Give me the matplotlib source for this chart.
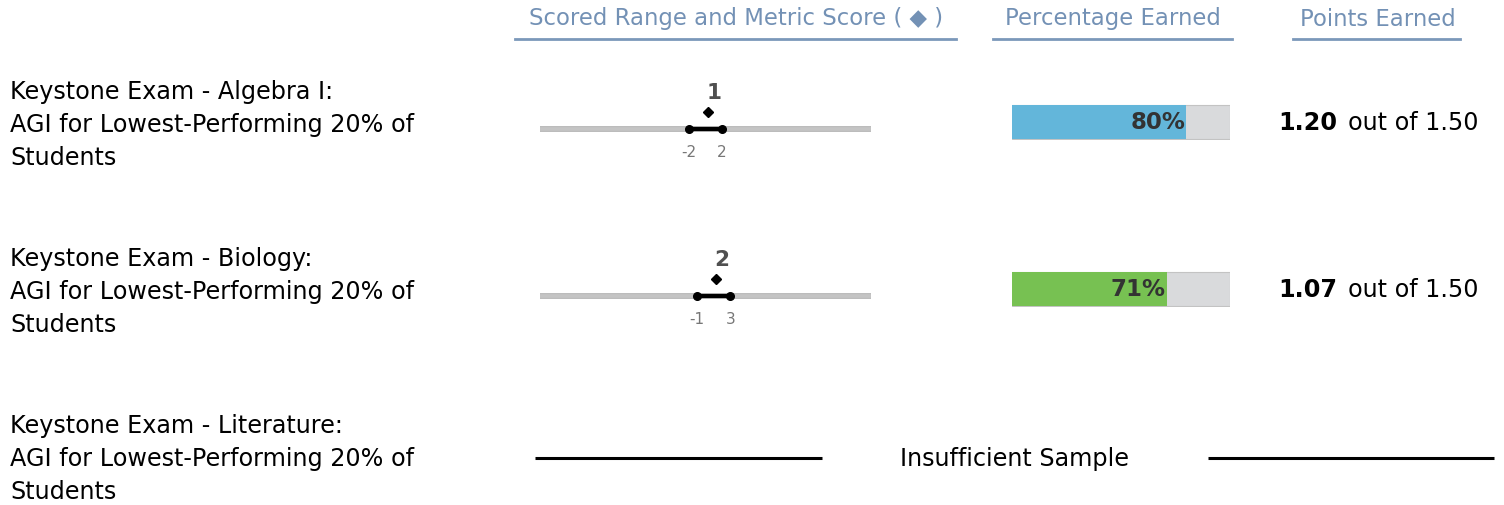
import matplotlib
matplotlib.use("Agg")
import matplotlib.pyplot as plt
import matplotlib.transforms as mtrans

# ---------------- data ----------------
row_labels = [
    "Keystone Exam - Algebra I:\nAGI for Lowest-Performing 20% of\nStudents",
    "Keystone Exam - Biology:\nAGI for Lowest-Performing 20% of\nStudents",
    "Keystone Exam - Literature:\nAGI for Lowest-Performing 20% of\nStudents",
]
range_low = [-2, -1, None]
range_high = [2, 3, None]
metric_score = [1, 2, None]
pct_earned = [80, 71, None]
pct_colors = ["#63b6da", "#77c152", None]
points_earned = [1.20, 1.07, None]
points_possible = [1.50, 1.50, None]
headers = ["Scored Range and Metric Score ( \u25C6 )", "Percentage Earned", "Points Earned"]
insufficient_text = "Insufficient Sample"
scale_min, scale_max = -20, 20

# ---------------- layout helpers ----------------
W, H = 1504, 506
fig = plt.figure(figsize=(W / 100, H / 100), dpi=100)
FONT = "DejaVu Sans"
FS = 17.2


def fx(x):
    return x / W


def fy(y):
    return 1 - y / H


def axes_px(x0, x1, y0, y1):
    ax = fig.add_axes([fx(x0), fy(y1), (x1 - x0) / W, (y1 - y0) / H])
    ax.axis("off")
    return ax


# ---------------- headers ----------------
hdr_color = "#7391b5"
line_color = "#7b98ba"
hdr_specs = [(736, 515, 956), (1113, 993, 1232), (1378, 1293, 1460)]
for text, (cx, ux0, ux1) in zip(headers, hdr_specs):
    fig.text(fx(cx), fy(19), text, ha="center", va="center", fontsize=16.4,
             color=hdr_color, family=FONT)
    fig.add_artist(plt.Line2D([fx(ux0), fx(ux1)], [fy(40), fy(40)],
                              color=line_color, lw=2.0))

# ---------------- rows ----------------
row_centers = [125, 292, 459]
for i, label in enumerate(row_labels):
    cy = row_centers[i]
    fig.text(fx(10), fy(cy), label, ha="left", va="center", fontsize=FS,
             family=FONT, color="#000000", linespacing=1.46)

    if metric_score[i] is None:
        # insufficient sample row
        ax = axes_px(0, W, cy - 20, cy + 20)
        ax.set_xlim(0, W)
        ax.set_ylim(-20, 20)
        ax.plot([535, 822], [0, 0], color="black", lw=2.2, solid_capstyle="butt")
        ax.plot([1208, 1494], [0, 0], color="black", lw=2.2, solid_capstyle="butt")
        ax.text(1014, 0, insufficient_text, ha="center", va="center",
                fontsize=FS, family=FONT, color="black")
        continue

    # scored range chart
    ay = cy + 5
    ax = axes_px(540, 871, ay - 50, ay + 50)
    ax.set_xlim(scale_min, scale_max)
    ax.set_ylim(-50, 50)
    ax.plot([scale_min, scale_max], [0, 0], color="#a9a9a9", lw=4.0,
            solid_capstyle="butt", zorder=1)
    ax.plot([scale_min, scale_max], [0, 0], color="#c4c4c4", lw=2.8,
            solid_capstyle="butt", zorder=1)
    ax.plot([range_low[i], range_high[i]], [0, 0], color="black", lw=3.0,
            marker="o", ms=5.5, zorder=3)
    dshift = mtrans.offset_copy(ax.transData, fig=fig, x=-6, y=0, units="dots")
    ax.plot([metric_score[i]], [17], marker="D", ms=5.5, color="black",
            transform=dshift, zorder=3)
    ax.text(metric_score[i], 37, f"{metric_score[i]}", ha="center", va="center",
            fontsize=15.5, color="#505050", fontweight="bold", family=FONT)
    for v in (range_low[i], range_high[i]):
        ax.text(v, -23, f"{v}", ha="center", va="center", fontsize=11,
                color="#777777", family=FONT)

    # percentage bar
    by = cy - 2
    axp = axes_px(1012, 1230, by - 18, by + 18)
    axp.set_xlim(0, 100)
    axp.set_ylim(-0.5, 0.5)
    axp.barh([0], [100], height=0.97, color="#d9dadc", edgecolor="#c3c3c3",
             lw=0.8, zorder=1)
    axp.barh([0], [pct_earned[i]], height=0.97, color=pct_colors[i], lw=0,
             zorder=2)
    axp.text(pct_earned[i] - 0.6, 0, f"{pct_earned[i]}%", ha="right",
             va="center", fontsize=16.5, fontweight="bold", color="#333333",
             family=FONT, zorder=3)

    # points earned
    fig.text(fx(1278), fy(by), f"{points_earned[i]:.2f}", ha="left", va="center",
             fontsize=FS, fontweight="bold", family=FONT, color="black")
    fig.text(fx(1479), fy(by), f"out of {points_possible[i]:.2f}", ha="right",
             va="center", fontsize=FS, family=FONT, color="black")

fig.savefig("out.png", dpi=100, facecolor="white")
